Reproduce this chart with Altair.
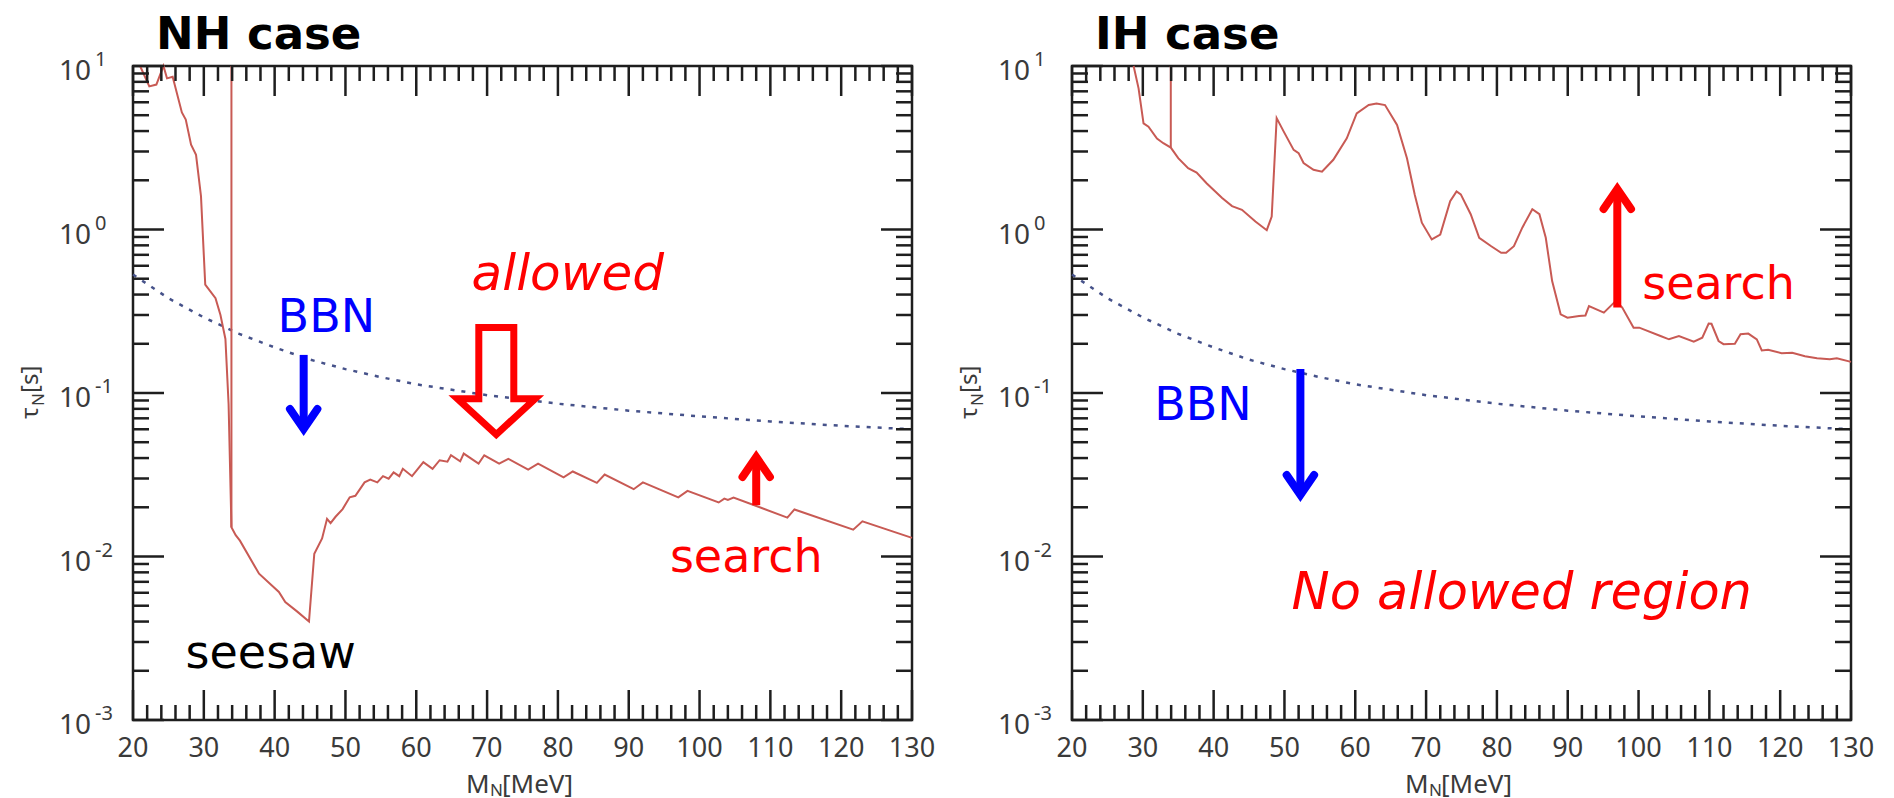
import altair as alt
import pandas as pd

# ---------------- data ----------------
# NH case: search-sensitivity curve (M_N [MeV], tau_N [s])
nh_m = [21.0, 22.3, 23.3, 24.3, 24.8, 25.6, 26.9, 27.45, 28.2, 28.9, 29.6, 30.2, 31.65, 32.35, 33.05,
        33.5, 33.9, 34.5, 35.1, 37.8, 40.6, 41.5, 43.2, 44.85, 45.6, 46.7, 47.4, 47.9, 48.6, 49.6,
        50.6, 51.4, 52.7, 53.5, 54.5, 55.3, 56.1, 56.8, 57.6, 58.1, 59.4, 61.0, 62.3, 63.3, 64.4,
        64.9, 66.2, 66.7, 68.8, 69.6, 71.7, 73.0, 75.8, 77.2, 80.8, 82.1, 85.5, 86.6, 90.7, 92.0,
        97.0, 98.3, 102.7, 103.5, 104.0, 104.8, 108.5, 112.4, 113.4, 121.7, 123.0, 130.0]
nh_tau = [10.0, 7.5, 7.7, 10.0, 8.4, 8.6, 5.2, 4.7, 3.3, 2.86, 1.6, 0.46, 0.38, 0.30, 0.214,
          0.085, 0.0151, 0.0135, 0.0125, 0.00785, 0.00607, 0.00527, 0.0046, 0.0040, 0.0104, 0.0129, 0.017, 0.016, 0.0175, 0.0195,
          0.023, 0.0235, 0.0284, 0.0295, 0.0284, 0.031, 0.0299, 0.0327, 0.031, 0.0344, 0.031, 0.0378, 0.0344, 0.0388, 0.038,
          0.0416, 0.0382, 0.0426, 0.037, 0.0416, 0.037, 0.0396, 0.034, 0.037, 0.0305, 0.0331, 0.0282, 0.0317, 0.0258, 0.0284,
          0.023, 0.0252, 0.0214, 0.0226, 0.0222, 0.0229, 0.02, 0.0173, 0.0194, 0.0146, 0.0164, 0.013]
nh_spike_m = [33.9, 33.9]
nh_spike_tau = [10.0, 0.0151]

# IH case
ih_m = [28.7, 29.4, 30.1, 30.8, 32.0, 32.9, 33.95, 35.0, 36.4, 37.6, 39.0, 41.2, 42.6, 44.0, 45.9, 47.5,
        48.2, 48.9, 49.9, 51.3, 52.0, 52.7, 54.1, 55.3, 56.9, 58.8, 60.2, 61.9, 63.0, 64.2, 65.9, 67.3,
        68.4, 69.4, 70.8, 72.0, 73.4, 74.3, 74.9, 76.3, 77.5, 79.2, 80.6, 81.3, 82.4, 83.6, 85.0, 86.0,
        86.9, 87.8, 89.0, 89.96, 91.6, 92.5, 93.0, 95.1, 96.8, 97.7, 99.3, 100.1, 103.1, 104.3, 105.7,
        107.8, 109.0, 109.9, 110.3, 111.3, 112.0, 113.6, 114.4, 115.5, 116.7, 117.4, 118.3, 120.2, 121.7,
        123.5, 125.2, 127.0, 128.0, 130.0]
ih_tau = [10.0, 7.3, 4.46, 4.25, 3.6, 3.37, 3.17, 2.73, 2.37, 2.23, 1.92, 1.56, 1.39, 1.32, 1.12, 0.99,
          1.2, 4.8, 3.97, 3.07, 2.93, 2.55, 2.32, 2.26, 2.67, 3.61, 5.13, 5.77, 5.9, 5.77, 4.36, 2.73,
          1.63, 1.1, 0.87, 0.93, 1.49, 1.71, 1.64, 1.24, 0.89, 0.79, 0.72, 0.72, 0.79, 1.03, 1.33, 1.24,
          0.89, 0.484, 0.303, 0.289, 0.296, 0.298, 0.34, 0.31, 0.366, 0.333, 0.251, 0.251, 0.223, 0.213, 0.223,
          0.206, 0.218, 0.266, 0.265, 0.208, 0.199, 0.2, 0.229, 0.231, 0.213, 0.182, 0.184, 0.175, 0.176,
          0.168, 0.163, 0.161, 0.163, 0.155]
ih_spike_m = [33.95, 33.95]
ih_spike_tau = [10.0, 3.17]

# BBN bound (same in both panels)
bbn_m = [20, 25, 30, 35, 40, 45, 50, 55, 60, 70, 80, 90, 100, 110, 120, 130]
bbn_tau = [0.53, 0.38, 0.29, 0.23, 0.19, 0.16, 0.14, 0.125, 0.113, 0.097, 0.086, 0.078, 0.072, 0.067, 0.063, 0.060]

# axis ticks / labels
x_major = list(range(20, 131, 10))
x_minor = [v for v in range(22, 130, 2) if v % 10]
y_major = [0.001, 0.01, 0.1, 1.0, 10.0]
y_exp = ["-3", "-2", "-1", "0", "1"]
y_minor = [m * 10.0 ** e for e in range(-3, 1) for m in range(2, 10)]

# ---------------- styling ----------------
W, H = 779, 654
XS = alt.Scale(domain=[20, 130], nice=False, zero=False)
YS = alt.Scale(type="log", domain=[0.001, 10], nice=False)
AX_FONT = "Noto Sans"
TXT_FONT = "DejaVu Sans"
GRAY = "#3a3a3a"
FRAME = "#1e1e1e"
RED_LINE = "#c85a54"
BBN_COLOR = "#46528a"
RED = "#ff0000"
BLUE = "#0000ff"


def X(f="M"):
    return alt.X(f"{f}:Q", scale=XS, axis=None)


def Y(f="tau"):
    return alt.Y(f"{f}:Q", scale=YS, axis=None)


def curve(ms, taus, **kw):
    df = pd.DataFrame({"M": ms, "tau": taus, "i": list(range(len(ms)))})
    return alt.Chart(df).mark_line(**kw).encode(x=X(), y=Y(), order="i:Q")


def spike(ms, taus):
    df = pd.DataFrame({"M": [ms[0]], "tau": [taus[0]], "tau2": [taus[1]]})
    return alt.Chart(df).mark_rule(color=RED_LINE, strokeWidth=2).encode(x=X(), y=Y(), y2="tau2:Q")


def ticks():
    layers = []
    for vals, L in ((x_major, 30), (x_minor, 15)):
        base = alt.Chart(pd.DataFrame({"v": vals})).mark_rule(color=FRAME, strokeWidth=2.5)
        layers.append(base.encode(x=X("v"), y=alt.value(H), y2=alt.value(H - L)))
        layers.append(base.encode(x=X("v"), y=alt.value(0), y2=alt.value(L)))
    for vals, L in ((y_major, 31), (y_minor, 16)):
        base = alt.Chart(pd.DataFrame({"v": vals})).mark_rule(color=FRAME, strokeWidth=2.5)
        layers.append(base.encode(y=Y("v"), x=alt.value(0), x2=alt.value(L)))
        layers.append(base.encode(y=Y("v"), x=alt.value(W), x2=alt.value(W - L)))
    return layers


def piece(text, x, y, size, angle=0, color=GRAY, font=AX_FONT, weight="normal", align="left"):
    return alt.Chart(pd.DataFrame({"t": [text]})).mark_text(
        font=font, fontSize=size, color=color, align=align, baseline="alphabetic",
        angle=angle, fontWeight=weight
    ).encode(x=alt.value(x), y=alt.value(y), text="t:N")


def axis_labels():
    dfx = pd.DataFrame({"v": x_major, "t": [str(v) for v in x_major]})
    xl = alt.Chart(dfx).mark_text(font=AX_FONT, fontSize=27, color=GRAY, align="center",
                                  baseline="alphabetic").encode(x=X("v"), y=alt.value(H + 37), text="t:N")
    dfy = pd.DataFrame({"v": y_major, "e": y_exp})
    yb = alt.Chart(dfy).mark_text(font=AX_FONT, fontSize=28, color=GRAY, align="right",
                                  baseline="alphabetic", dy=14).encode(x=alt.value(-42), y=Y("v"), text=alt.value("10"))
    ye = alt.Chart(dfy).mark_text(font=AX_FONT, fontSize=20, color=GRAY, align="left",
                                  baseline="alphabetic", dy=0).encode(x=alt.value(-38), y=Y("v"), text="e:N")
    parts = [xl, yb, ye]
    # y title  tau_N[s] (rotated)
    parts.append(piece("τ", -95, 353, 24, angle=270))
    parts.append(piece("N", -89, 340, 17, angle=270))
    parts.append(piece("[s]", -95, 327, 24, angle=270))
    # x title  M_N[MeV]
    parts.append(piece("M", 333, H + 73, 26))
    parts.append(piece("N", 357, H + 76, 17))
    parts.append(piece("[MeV]", 369, H + 73, 26))
    return parts


def label(text, M, tau, color, size, italic=False):
    df = pd.DataFrame({"M": [M], "tau": [tau], "t": [text]})
    return alt.Chart(df).mark_text(font=TXT_FONT, fontSize=size, color=color, align="center",
                                   baseline="alphabetic",
                                   fontStyle="italic" if italic else "normal").encode(x=X(), y=Y(), text="t:N")


def arrow(M, tau_from, tau_to, color, up):
    shaft = alt.Chart(pd.DataFrame({"M": [M], "tau": [tau_from], "tau2": [tau_to]})).mark_rule(
        color=color, strokeWidth=8).encode(x=X(), y=Y(), y2="tau2:Q")
    path = "M -0.685 1 L 0 0 L 0.685 1" if up else "M -0.685 -1 L 0 0 L 0.685 -1"
    head = alt.Chart(pd.DataFrame({"M": [M], "tau": [tau_to]})).mark_point(
        shape=path, size=1600, filled=False, stroke=color, strokeWidth=8, strokeCap="round",
        strokeJoin="miter", opacity=1).encode(x=X(), y=Y())
    return [shaft, head]


def hollow_arrow(M, tau):
    path = ("M -0.324 -1 L 0.324 -1 L 0.324 0.318 L 0.72 0.318 L 0 0.98 "
            "L -0.72 0.318 L -0.324 0.318 Z")
    return alt.Chart(pd.DataFrame({"M": [M], "tau": [tau]})).mark_point(
        shape=path, size=11664, filled=False, stroke=RED, strokeWidth=7, strokeJoin="miter",
        opacity=1).encode(x=X(), y=Y())


def panel(title, cm, ct, sm, st, extra, anchor=False):
    layers = []
    if anchor:
        layers.append(alt.Chart(pd.DataFrame({"a": [0]})).mark_rule(opacity=0).encode(
            x=alt.value(-131), x2=alt.value(-130), y=alt.value(-64), y2=alt.value(-64)))
    layers.append(curve(bbn_m, bbn_tau, color=BBN_COLOR, strokeWidth=2.5, strokeDash=[4, 7]))
    layers.append(curve(cm, ct, color=RED_LINE, strokeWidth=2))
    layers.append(spike(sm, st))
    layers += ticks()
    layers += axis_labels()
    layers.append(piece(title, 23, -17, 45, color="#000000", font=TXT_FONT, weight="bold"))
    layers += extra
    return alt.layer(*layers).properties(width=W, height=H)


left_extra = (
    [label("BBN", 47.3, 0.236, BLUE, 46),
     label("allowed", 81.4, 0.427, RED, 50, italic=True),
     label("search", 106.6, 0.00804, RED, 46),
     label("seesaw", 39.45, 0.00208, "#000000", 46),
     hollow_arrow(71.3, 0.1175)]
    + arrow(44.1, 0.171, 0.0602, BLUE, up=False)
    + arrow(108.0, 0.0206, 0.0406, RED, up=True)
)

right_extra = (
    [label("BBN", 38.5, 0.068, BLUE, 46),
     label("search", 111.3, 0.376, RED, 46),
     label("No allowed region", 83.5, 0.00478, RED, 51, italic=True)]
    + arrow(52.25, 0.140, 0.0238, BLUE, up=False)
    + arrow(97.0, 0.333, 1.77, RED, up=True)
)

left = panel("NH case", nh_m, nh_tau, nh_spike_m, nh_spike_tau, left_extra, anchor=True)
right = panel("IH case", ih_m, ih_tau, ih_spike_m, ih_spike_tau, right_extra)

chart = alt.hconcat(left, right, spacing=160, bounds="flush").properties(
    padding=0, background="white"
).configure_view(stroke=FRAME, strokeWidth=2.5)

chart.save("out.html", embed_options={"renderer": "svg", "actions": False})
